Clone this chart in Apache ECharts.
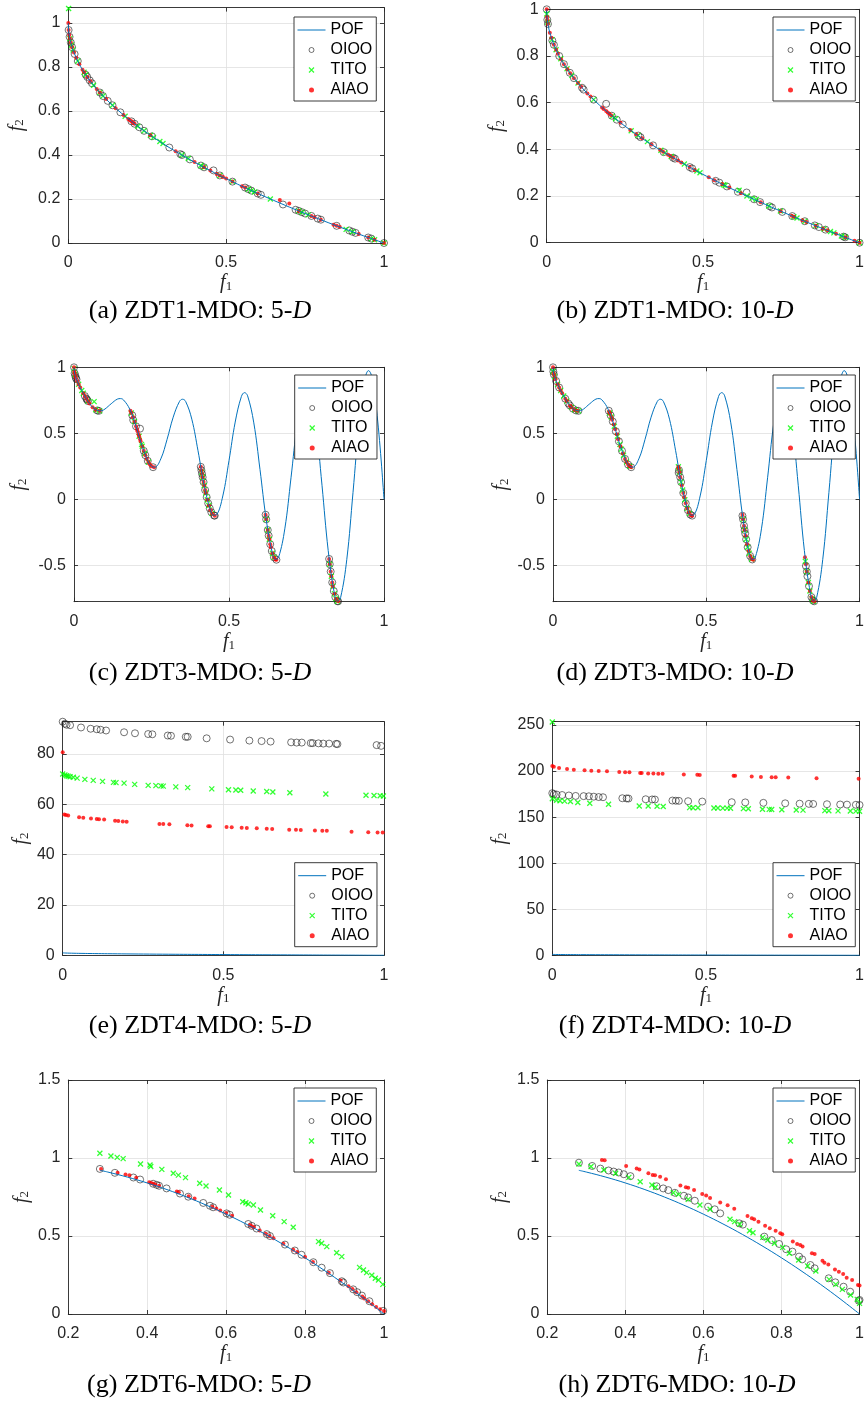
<!DOCTYPE html>
<html>
<head>
<meta charset="utf-8">
<script src="https://cdn.jsdelivr.net/npm/echarts@6.0.0/dist/echarts.min.js"></script>
<style>
html, body { margin: 0; padding: 0; background: #fff; }
#chart { width: 867px; height: 1404px; }
</style>
</head>
<body>
<div id="chart"></div>
<script>
// ---- Pareto fronts ----
var zdt1Pof = [[0,1],[0.001,0.968],[0.003,0.945],[0.006,0.923],[0.01,0.9],[0.02,0.859],[0.035,0.813],[0.05,0.776],[0.07,0.735],[0.1,0.684],[0.14,0.626],[0.2,0.553],[0.27,0.48],[0.35,0.408],[0.45,0.329],[0.55,0.258],[0.65,0.194],[0.75,0.134],[0.85,0.078],[0.95,0.025],[1,0]];
var zdt3Pof = [[0,1],[0.001,0.968],[0.003,0.945],[0.005,0.929],[0.01,0.897],[0.02,0.847],[0.03,0.803],[0.04,0.762],[0.05,0.726],[0.06,0.698],[0.07,0.679],[0.083,0.670],[0.09,0.672],[0.1,0.684],[0.12,0.724],[0.14,0.759],[0.15,0.763],[0.16,0.752],[0.18,0.682],[0.2,0.553],[0.22,0.402],[0.24,0.282],[0.25,0.25],[0.26,0.243],[0.28,0.306],[0.3,0.452],[0.32,0.622],[0.34,0.740],[0.35,0.758],[0.36,0.742],[0.38,0.607],[0.4,0.368],[0.42,0.105],[0.44,-0.082],[0.45,-0.121],[0.46,-0.116],[0.48,0.025],[0.5,0.293],[0.52,0.585],[0.54,0.779],[0.55,0.808],[0.56,0.784],[0.58,0.579],[0.6,0.225],[0.62,-0.152],[0.64,-0.409],[0.65,-0.456],[0.66,-0.44],[0.68,-0.224],[0.7,0.163],[0.72,0.575],[0.74,0.844],[0.75,0.884],[0.76,0.851],[0.78,0.575],[0.8,0.106],[0.82,-0.388],[0.84,-0.715],[0.85,-0.772],[0.86,-0.745],[0.88,-0.455],[0.9,0.051],[0.92,0.582],[0.94,0.925],[0.95,0.975],[0.96,0.933],[0.98,0.586],[1,0]];
var zdt6Pof = [[0.2807,0.9212],[0.3,0.91],[0.35,0.8775],[0.4,0.84],[0.45,0.7975],[0.5,0.75],[0.55,0.6975],[0.6,0.64],[0.65,0.5775],[0.7,0.51],[0.75,0.4375],[0.8,0.36],[0.85,0.2775],[0.9,0.19],[0.95,0.0975],[1,0]];

// ---- (a) ZDT1 5-D ----
var zdt1_5d_oioo = [[0.001,0.968],[0.004,0.937],[0.008,0.911],[0.012,0.89],[0.02,0.859],[0.03,0.827],[0.055,0.765],[0.06,0.755],[0.068,0.739],[0.075,0.726],[0.1,0.684],[0.11,0.668],[0.125,0.646],[0.14,0.626],[0.165,0.594],[0.2,0.553],[0.21,0.542],[0.225,0.526],[0.24,0.51],[0.265,0.485],[0.32,0.434],[0.355,0.404],[0.36,0.4],[0.385,0.38],[0.42,0.352],[0.43,0.344],[0.46,0.33],[0.48,0.307],[0.52,0.279],[0.56,0.252],[0.57,0.245],[0.58,0.238],[0.6,0.225],[0.61,0.219],[0.68,0.175],[0.72,0.151],[0.73,0.146],[0.74,0.14],[0.75,0.134],[0.77,0.123],[0.79,0.111],[0.8,0.106],[0.85,0.078],[0.89,0.057],[0.9,0.051],[0.91,0.046],[0.95,0.025],[0.96,0.02],[1,0]];
var zdt1_5d_tito = [[0.001,1.066],[0.005,0.929],[0.01,0.9],[0.015,0.878],[0.03,0.827],[0.05,0.776],[0.055,0.765],[0.08,0.717],[0.1,0.684],[0.11,0.668],[0.14,0.626],[0.18,0.576],[0.22,0.531],[0.24,0.51],[0.26,0.49],[0.27,0.48],[0.29,0.461],[0.3,0.452],[0.36,0.4],[0.38,0.384],[0.42,0.352],[0.43,0.344],[0.48,0.307],[0.52,0.279],[0.57,0.245],[0.58,0.238],[0.59,0.232],[0.64,0.2],[0.73,0.146],[0.74,0.14],[0.76,0.128],[0.88,0.062],[0.9,0.051],[0.96,0.02],[0.97,0.015],[1,0]];
var zdt1_5d_aiao = [[0,1],[0.001,0.968],[0.003,0.945],[0.005,0.929],[0.008,0.911],[0.012,0.89],[0.018,0.866],[0.025,0.842],[0.035,0.813],[0.045,0.788],[0.05,0.776],[0.06,0.755],[0.07,0.735],[0.09,0.7],[0.1,0.684],[0.12,0.654],[0.15,0.613],[0.175,0.582],[0.19,0.564],[0.195,0.558],[0.2,0.553],[0.205,0.547],[0.21,0.542],[0.26,0.49],[0.34,0.417],[0.4,0.368],[0.43,0.344],[0.45,0.329],[0.47,0.314],[0.48,0.307],[0.49,0.3],[0.5,0.293],[0.52,0.279],[0.55,0.258],[0.56,0.252],[0.6,0.225],[0.67,0.195],[0.7,0.18],[0.73,0.146],[0.77,0.123],[0.78,0.117],[0.8,0.106],[0.84,0.083],[0.85,0.078],[0.86,0.073],[0.92,0.041],[0.95,0.025],[0.97,0.015],[1,0]];

// ---- (b) ZDT1 10-D ----
var zdt1_10d_oioo = [[0,1],[0.002,0.955],[0.004,0.937],[0.018,0.866],[0.023,0.848],[0.04,0.8],[0.055,0.765],[0.074,0.728],[0.087,0.705],[0.113,0.664],[0.118,0.656],[0.15,0.613],[0.19,0.595],[0.208,0.544],[0.224,0.527],[0.243,0.507],[0.293,0.459],[0.3,0.452],[0.34,0.417],[0.374,0.388],[0.404,0.364],[0.41,0.36],[0.457,0.324],[0.465,0.318],[0.54,0.265],[0.552,0.257],[0.576,0.241],[0.611,0.218],[0.639,0.215],[0.663,0.186],[0.682,0.174],[0.713,0.156],[0.72,0.151],[0.753,0.132],[0.785,0.114],[0.825,0.092],[0.857,0.074],[0.87,0.067],[0.891,0.056],[0.949,0.026],[0.954,0.023],[1,0]];
var zdt1_10d_tito = [[0,0.98],[0.003,0.945],[0.017,0.87],[0.03,0.827],[0.045,0.788],[0.065,0.745],[0.08,0.717],[0.1,0.684],[0.15,0.613],[0.21,0.542],[0.22,0.531],[0.27,0.48],[0.292,0.46],[0.322,0.433],[0.365,0.396],[0.378,0.385],[0.398,0.369],[0.44,0.337],[0.48,0.307],[0.49,0.3],[0.565,0.248],[0.57,0.245],[0.615,0.225],[0.64,0.2],[0.656,0.19],[0.67,0.185],[0.71,0.157],[0.747,0.136],[0.79,0.111],[0.8,0.106],[0.825,0.092],[0.86,0.073],[0.886,0.059],[0.907,0.048],[0.918,0.042],[0.942,0.029],[0.955,0.023],[1,0]];
var zdt1_10d_aiao = [[0,1],[0.001,0.968],[0.002,0.955],[0.004,0.937],[0.01,0.9],[0.015,0.878],[0.023,0.848],[0.03,0.827],[0.036,0.81],[0.046,0.786],[0.055,0.765],[0.066,0.743],[0.075,0.726],[0.087,0.705],[0.1,0.684],[0.11,0.668],[0.13,0.639],[0.14,0.626],[0.177,0.579],[0.182,0.573],[0.19,0.564],[0.195,0.558],[0.2,0.553],[0.206,0.546],[0.236,0.514],[0.267,0.483],[0.286,0.465],[0.305,0.448],[0.335,0.421],[0.362,0.398],[0.372,0.39],[0.388,0.377],[0.395,0.372],[0.405,0.364],[0.42,0.352],[0.43,0.344],[0.457,0.324],[0.473,0.312],[0.518,0.28],[0.536,0.268],[0.561,0.251],[0.584,0.236],[0.621,0.212],[0.684,0.173],[0.748,0.135],[0.783,0.115],[0.79,0.111],[0.817,0.096],[0.83,0.089],[0.86,0.073],[0.883,0.06],[0.897,0.053],[0.925,0.038],[0.955,0.023],[0.984,0.008],[1,0]];

// ---- (c) ZDT3 5-D ----
var zdt3_5d_oioo = [[0,1],[0.002,0.955],[0.004,0.936],[0.006,0.921],[0.008,0.909],[0.035,0.782],[0.04,0.762],[0.042,0.755],[0.045,0.744],[0.075,0.673],[0.08,0.670],[0.188,0.636],[0.191,0.6],[0.2,0.553],[0.213,0.535],[0.225,0.367],[0.23,0.334],[0.238,0.291],[0.255,0.243],[0.409,0.246],[0.411,0.22],[0.413,0.193],[0.415,0.167],[0.418,0.13],[0.423,0.07],[0.428,0.016],[0.433,-0.031],[0.438,-0.069],[0.443,-0.098],[0.452,-0.123],[0.454,-0.124],[0.618,-0.117],[0.62,-0.152],[0.625,-0.233],[0.628,-0.276],[0.633,-0.34],[0.638,-0.392],[0.645,-0.44],[0.653,-0.458],[0.823,-0.452],[0.825,-0.492],[0.828,-0.548],[0.833,-0.63],[0.838,-0.695],[0.843,-0.741],[0.85,-0.772],[0.852,-0.773]];
var zdt3_5d_tito = [[0,0.99],[0.003,0.945],[0.015,0.871],[0.025,0.824],[0.03,0.803],[0.045,0.744],[0.065,0.74],[0.07,0.679],[0.083,0.67],[0.185,0.654],[0.195,0.589],[0.21,0.477],[0.218,0.416],[0.22,0.402],[0.228,0.347],[0.24,0.282],[0.412,0.206],[0.415,0.167],[0.42,0.105],[0.425,0.048],[0.43,-0.004],[0.435,-0.047],[0.445,-0.107],[0.62,-0.152],[0.625,-0.233],[0.63,-0.303],[0.64,-0.409],[0.645,-0.44],[0.825,-0.492],[0.83,-0.583],[0.835,-0.658],[0.84,-0.715],[0.845,-0.754],[0.85,-0.772]];
var zdt3_5d_aiao = [[0,1],[0.001,0.968],[0.002,0.955],[0.004,0.936],[0.006,0.921],[0.01,0.897],[0.015,0.871],[0.02,0.847],[0.03,0.803],[0.035,0.782],[0.04,0.762],[0.045,0.744],[0.05,0.726],[0.06,0.698],[0.07,0.679],[0.083,0.67],[0.182,0.671],[0.185,0.654],[0.19,0.623],[0.195,0.589],[0.2,0.553],[0.203,0.53],[0.205,0.515],[0.208,0.492],[0.21,0.477],[0.213,0.454],[0.215,0.439],[0.22,0.402],[0.225,0.367],[0.23,0.334],[0.235,0.306],[0.24,0.282],[0.245,0.263],[0.25,0.25],[0.258,0.242],[0.409,0.246],[0.411,0.22],[0.413,0.193],[0.415,0.167],[0.418,0.13],[0.42,0.105],[0.423,0.07],[0.425,0.048],[0.43,-0.004],[0.435,-0.047],[0.44,-0.082],[0.445,-0.107],[0.454,-0.124],[0.618,-0.117],[0.62,-0.152],[0.625,-0.233],[0.628,-0.276],[0.63,-0.303],[0.633,-0.34],[0.635,-0.363],[0.64,-0.409],[0.645,-0.44],[0.65,-0.456],[0.653,-0.458],[0.823,-0.452],[0.825,-0.492],[0.828,-0.548],[0.83,-0.583],[0.833,-0.63],[0.835,-0.658],[0.84,-0.715],[0.845,-0.754],[0.852,-0.773]];

// ---- (d) ZDT3 10-D ----
var zdt3_10d_oioo = [[0,1],[0.001,0.968],[0.003,0.945],[0.01,0.897],[0.02,0.847],[0.04,0.762],[0.05,0.726],[0.055,0.711],[0.065,0.687],[0.075,0.673],[0.083,0.67],[0.182,0.671],[0.188,0.636],[0.195,0.589],[0.205,0.515],[0.215,0.439],[0.225,0.367],[0.235,0.306],[0.245,0.263],[0.255,0.243],[0.41,0.2],[0.411,0.22],[0.415,0.167],[0.418,0.13],[0.425,0.048],[0.433,-0.031],[0.44,-0.082],[0.448,-0.116],[0.454,-0.124],[0.618,-0.125],[0.62,-0.152],[0.623,-0.2],[0.625,-0.233],[0.627,-0.26],[0.63,-0.303],[0.635,-0.363],[0.643,-0.429],[0.65,-0.456],[0.825,-0.505],[0.828,-0.548],[0.83,-0.583],[0.835,-0.658],[0.843,-0.741],[0.848,-0.767],[0.852,-0.773]];
var zdt3_10d_tito = [[0,0.97],[0.005,0.929],[0.015,0.871],[0.025,0.824],[0.035,0.782],[0.045,0.744],[0.06,0.698],[0.07,0.679],[0.083,0.67],[0.185,0.654],[0.19,0.623],[0.2,0.553],[0.21,0.477],[0.218,0.416],[0.223,0.38],[0.23,0.334],[0.24,0.282],[0.25,0.25],[0.409,0.246],[0.412,0.206],[0.418,0.13],[0.423,0.07],[0.43,-0.004],[0.438,-0.069],[0.445,-0.107],[0.62,-0.152],[0.625,-0.233],[0.63,-0.303],[0.635,-0.363],[0.64,-0.409],[0.648,-0.452],[0.823,-0.47],[0.828,-0.548],[0.833,-0.63],[0.838,-0.695],[0.845,-0.754],[0.85,-0.772]];
var zdt3_10d_aiao = [[0,1],[0.002,0.955],[0.004,0.936],[0.008,0.909],[0.015,0.871],[0.02,0.847],[0.025,0.824],[0.03,0.803],[0.04,0.762],[0.045,0.744],[0.055,0.711],[0.06,0.698],[0.07,0.679],[0.08,0.67],[0.183,0.665],[0.186,0.648],[0.19,0.623],[0.193,0.602],[0.198,0.567],[0.203,0.53],[0.208,0.492],[0.213,0.454],[0.22,0.402],[0.228,0.347],[0.235,0.306],[0.24,0.282],[0.245,0.263],[0.25,0.25],[0.255,0.243],[0.409,0.246],[0.41,0.233],[0.412,0.206],[0.415,0.167],[0.42,0.105],[0.425,0.048],[0.428,0.016],[0.433,-0.031],[0.438,-0.069],[0.443,-0.098],[0.45,-0.121],[0.454,-0.124],[0.618,-0.117],[0.62,-0.152],[0.623,-0.2],[0.625,-0.233],[0.628,-0.276],[0.633,-0.34],[0.638,-0.392],[0.643,-0.429],[0.648,-0.452],[0.653,-0.458],[0.822,-0.44],[0.825,-0.492],[0.828,-0.548],[0.833,-0.63],[0.838,-0.695],[0.843,-0.741],[0.848,-0.767],[0.852,-0.773]];

// ---- (e) ZDT4 5-D ----
var zdt4_5d_oioo = [[0,92.8],[0.007,92.0],[0.012,91.6],[0.023,91.4],[0.057,90.5],[0.087,90.0],[0.106,89.8],[0.118,89.6],[0.135,89.3],[0.191,88.6],[0.225,88.2],[0.266,87.9],[0.279,87.8],[0.327,87.3],[0.337,87.2],[0.383,86.8],[0.389,86.8],[0.448,86.2],[0.521,85.7],[0.581,85.3],[0.619,85.1],[0.647,84.9],[0.711,84.6],[0.728,84.5],[0.744,84.5],[0.772,84.3],[0.778,84.3],[0.796,84.2],[0.811,84.1],[0.829,84.1],[0.851,84.0],[0.855,83.9],[0.977,83.5],[0.991,83.2]];
var zdt4_5d_tito = [[0,72.0],[0.007,71.6],[0.012,71.3],[0.017,71.1],[0.023,70.9],[0.033,70.7],[0.045,70.4],[0.069,69.9],[0.095,69.5],[0.124,69.1],[0.158,68.7],[0.166,68.6],[0.191,68.4],[0.224,67.9],[0.266,67.5],[0.29,67.4],[0.306,67.3],[0.313,67.2],[0.352,66.9],[0.389,66.6],[0.464,66.1],[0.516,65.8],[0.539,65.7],[0.554,65.6],[0.593,65.3],[0.635,65.1],[0.654,64.9],[0.707,64.6],[0.819,64.1],[0.944,63.6],[0.969,63.5],[0.988,63.4],[0.998,63.3]];
var zdt4_5d_aiao = [[0,80.7],[0.005,55.9],[0.01,55.7],[0.017,55.5],[0.051,54.8],[0.064,54.6],[0.088,54.3],[0.106,54.1],[0.113,54.0],[0.129,53.9],[0.163,53.5],[0.173,53.4],[0.187,53.2],[0.199,53.1],[0.301,52.2],[0.313,52.2],[0.332,52.1],[0.388,51.7],[0.401,51.6],[0.453,51.3],[0.458,51.3],[0.51,51.0],[0.526,50.9],[0.557,50.7],[0.573,50.6],[0.604,50.5],[0.635,50.3],[0.652,50.2],[0.705,49.9],[0.726,49.9],[0.741,49.8],[0.785,49.6],[0.808,49.5],[0.822,49.5],[0.899,49.1],[0.951,48.9],[0.98,48.8],[0.996,48.8]];

// ---- (f) ZDT4 10-D ----
var zdt4_10d_oioo = [[0,176.0],[0.005,175.0],[0.014,174.5],[0.032,174.0],[0.054,173.5],[0.076,173.0],[0.102,172.8],[0.119,172.6],[0.135,172.2],[0.151,171.8],[0.165,171.6],[0.228,170.5],[0.242,170.3],[0.248,170.2],[0.304,169.4],[0.325,169.2],[0.334,169.1],[0.391,168.0],[0.402,167.8],[0.412,167.7],[0.442,167.3],[0.488,166.9],[0.584,166.2],[0.628,166.0],[0.687,165.5],[0.758,165.0],[0.805,164.6],[0.835,164.4],[0.849,164.3],[0.894,164.0],[0.937,163.7],[0.959,163.6],[0.988,163.4],[1,163.2]];
var zdt4_10d_tito = [[0,253.3],[0,169.9],[0.014,168.3],[0.025,167.8],[0.04,167.4],[0.059,167.0],[0.083,165.8],[0.122,165.0],[0.183,163.9],[0.283,162.1],[0.312,162.0],[0.341,161.9],[0.361,161.6],[0.447,160.3],[0.458,160.2],[0.474,160.1],[0.526,159.9],[0.539,159.9],[0.555,159.8],[0.569,159.8],[0.58,159.7],[0.622,159.2],[0.638,159.1],[0.684,158.5],[0.706,158.4],[0.714,158.3],[0.747,158.1],[0.794,157.8],[0.816,157.6],[0.887,157.1],[0.9,157.0],[0.93,156.8],[0.97,156.6],[0.988,156.5],[1,156.4]];
var zdt4_10d_aiao = [[0,205.5],[0.005,204.8],[0.022,203.3],[0.048,202.2],[0.07,201.5],[0.105,200.8],[0.127,200.4],[0.151,200.1],[0.178,199.7],[0.218,199.0],[0.237,198.7],[0.251,198.6],[0.286,197.9],[0.291,197.9],[0.312,197.5],[0.329,197.3],[0.345,197.2],[0.359,197.0],[0.428,196.2],[0.472,195.9],[0.48,195.8],[0.59,194.8],[0.595,194.8],[0.649,194.1],[0.679,193.7],[0.714,193.4],[0.727,193.3],[0.768,193.0],[0.86,192.3],[0.997,191.6]];

// ---- (g) ZDT6 5-D ----
var zdt6_5d_oioo = [[0.28,0.93],[0.318,0.905],[0.365,0.875],[0.382,0.862],[0.415,0.835],[0.424,0.828],[0.43,0.822],[0.449,0.805],[0.483,0.772],[0.504,0.752],[0.542,0.712],[0.559,0.694],[0.567,0.684],[0.601,0.645],[0.609,0.636],[0.656,0.577],[0.665,0.565],[0.677,0.548],[0.703,0.512],[0.711,0.5],[0.749,0.445],[0.774,0.407],[0.791,0.38],[0.821,0.332],[0.842,0.297],[0.863,0.262],[0.893,0.21],[0.897,0.202],[0.922,0.158],[0.932,0.14],[0.944,0.118],[0.963,0.082],[0.998,0.02]];
var zdt6_5d_tito = [[0.28,1.03],[0.308,1.013],[0.324,1.004],[0.339,0.996],[0.383,0.962],[0.407,0.955],[0.409,0.945],[0.437,0.927],[0.466,0.902],[0.479,0.89],[0.497,0.874],[0.533,0.838],[0.549,0.821],[0.583,0.795],[0.606,0.763],[0.642,0.72],[0.65,0.713],[0.656,0.705],[0.669,0.699],[0.687,0.667],[0.718,0.63],[0.747,0.592],[0.77,0.556],[0.834,0.464],[0.842,0.453],[0.855,0.432],[0.88,0.393],[0.893,0.368],[0.938,0.299],[0.948,0.282],[0.956,0.265],[0.969,0.248],[0.978,0.229],[0.986,0.218],[0.997,0.19]];
var zdt6_5d_aiao = [[0.283,0.93],[0.325,0.905],[0.345,0.895],[0.355,0.89],[0.372,0.874],[0.405,0.845],[0.41,0.84],[0.415,0.835],[0.42,0.83],[0.43,0.822],[0.475,0.785],[0.48,0.78],[0.505,0.755],[0.52,0.74],[0.565,0.688],[0.575,0.676],[0.585,0.664],[0.6,0.648],[0.615,0.63],[0.66,0.57],[0.665,0.563],[0.67,0.556],[0.685,0.536],[0.7,0.515],[0.71,0.5],[0.72,0.486],[0.745,0.45],[0.77,0.412],[0.78,0.397],[0.8,0.366],[0.82,0.334],[0.86,0.265],[0.89,0.215],[0.91,0.178],[0.92,0.16],[0.93,0.14],[0.945,0.112],[0.95,0.1],[0.96,0.082],[0.97,0.062],[0.98,0.045],[0.99,0.03],[1,0.02]];

// ---- (h) ZDT6 10-D ----
var zdt6_10d_oioo = [[0.281,0.97],[0.315,0.949],[0.336,0.932],[0.357,0.92],[0.37,0.913],[0.383,0.907],[0.396,0.896],[0.413,0.884],[0.48,0.819],[0.497,0.805],[0.51,0.794],[0.527,0.777],[0.55,0.758],[0.561,0.747],[0.578,0.726],[0.612,0.688],[0.629,0.671],[0.643,0.645],[0.692,0.581],[0.701,0.573],[0.756,0.496],[0.775,0.474],[0.794,0.449],[0.812,0.415],[0.828,0.4],[0.845,0.368],[0.853,0.35],[0.874,0.314],[0.885,0.293],[0.921,0.229],[0.938,0.203],[0.959,0.175],[0.976,0.143],[0.998,0.085],[1,0.09]];
var zdt6_10d_tito = [[0.281,0.962],[0.312,0.945],[0.345,0.923],[0.375,0.902],[0.409,0.876],[0.438,0.848],[0.468,0.827],[0.477,0.812],[0.523,0.777],[0.536,0.767],[0.561,0.735],[0.591,0.699],[0.617,0.671],[0.668,0.607],[0.68,0.592],[0.693,0.575],[0.718,0.534],[0.727,0.521],[0.752,0.491],[0.765,0.474],[0.782,0.453],[0.803,0.427],[0.82,0.389],[0.844,0.346],[0.867,0.308],[0.888,0.276],[0.922,0.222],[0.939,0.19],[0.956,0.158],[0.977,0.122],[0.994,0.094],[1,0.068]];
var zdt6_10d_aiao = [[0.34,0.987],[0.347,0.985],[0.402,0.949],[0.429,0.932],[0.436,0.927],[0.459,0.902],[0.47,0.891],[0.476,0.889],[0.489,0.88],[0.504,0.863],[0.541,0.823],[0.555,0.812],[0.561,0.81],[0.576,0.795],[0.597,0.769],[0.607,0.759],[0.617,0.744],[0.643,0.714],[0.662,0.697],[0.679,0.675],[0.713,0.628],[0.724,0.613],[0.73,0.607],[0.741,0.592],[0.758,0.566],[0.77,0.549],[0.785,0.534],[0.797,0.517],[0.802,0.511],[0.829,0.464],[0.84,0.449],[0.848,0.442],[0.854,0.432],[0.878,0.389],[0.885,0.385],[0.905,0.342],[0.91,0.329],[0.92,0.318],[0.937,0.286],[0.947,0.271],[0.958,0.256],[0.967,0.233],[0.981,0.218],[0.996,0.186],[1,0.182]];

// ---- panel layout ----
var panels = [
  {grid: {left: 68.3, top: 7.6, width: 315.7, height: 235.4}, x: [0, 1, 0.5], y: [0, 1.07, 0.2], yGap: 42, legend: [294, 17], cap: ['(a) ZDT1-MDO: 5-', 200, 311], pof: zdt1Pof, oioo: zdt1_5d_oioo, tito: zdt1_5d_tito, aiao: zdt1_5d_aiao},
  {grid: {left: 546.7, top: 9.3, width: 315, height: 233.4}, x: [0, 1, 0.5], y: [0, 1, 0.2], yGap: 40, legend: [773, 17], cap: ['(b) ZDT1-MDO: 10-', 675, 311], pof: zdt1Pof, oioo: zdt1_10d_oioo, tito: zdt1_10d_tito, aiao: zdt1_10d_aiao},
  {grid: {left: 74, top: 367.3, width: 310, height: 234.4}, x: [0, 1, 0.5], y: [-0.776, 1, 0.5], yGap: 45, legend: [294.7, 375], cap: ['(c) ZDT3-MDO: 5-', 200, 673], pof: zdt3Pof, oioo: zdt3_5d_oioo, tito: zdt3_5d_tito, aiao: zdt3_5d_aiao},
  {grid: {left: 553, top: 367.3, width: 308.7, height: 234.4}, x: [0, 1, 0.5], y: [-0.776, 1, 0.5], yGap: 42, legend: [773, 375], cap: ['(d) ZDT3-MDO: 10-', 675, 673], pof: zdt3Pof, oioo: zdt3_10d_oioo, tito: zdt3_10d_tito, aiao: zdt3_10d_aiao},
  {grid: {left: 62.7, top: 721.7, width: 321.3, height: 233.6}, x: [0, 1, 0.5], y: [0, 92.8, 20], yGap: 32, legend: [294.7, 862.7], cap: ['(e) ZDT4-MDO: 5-', 200, 1026], pof: zdt1Pof, oioo: zdt4_5d_oioo, tito: zdt4_5d_tito, aiao: zdt4_5d_aiao},
  {grid: {left: 552.3, top: 721.7, width: 309.4, height: 233.6}, x: [0, 1, 0.5], y: [0, 253.6, 50], yGap: 43, legend: [773, 862.7], cap: ['(f) ZDT4-MDO: 10-', 675, 1026], pof: zdt1Pof, oioo: zdt4_10d_oioo, tito: zdt4_10d_tito, aiao: zdt4_10d_aiao},
  {grid: {left: 68.3, top: 1080, width: 315.7, height: 234}, x: [0.2, 1, 0.2], y: [0, 1.5, 0.5], yGap: 37, legend: [294, 1088], cap: ['(g) ZDT6-MDO: 5-', 199, 1385], pof: zdt6Pof, oioo: zdt6_5d_oioo, tito: zdt6_5d_tito, aiao: zdt6_5d_aiao},
  {grid: {left: 547.3, top: 1080, width: 314.4, height: 234}, x: [0.2, 1, 0.2], y: [0, 1.5, 0.5], yGap: 38, legend: [773, 1088], cap: ['(h) ZDT6-MDO: 10-', 677, 1385], pof: zdt6Pof, oioo: zdt6_10d_oioo, tito: zdt6_10d_tito, aiao: zdt6_10d_aiao}
];

var axisColor = '#262626';
var nameRich = {
  f: {fontFamily: 'Liberation Serif', fontStyle: 'italic', fontSize: 20, lineHeight: 20, color: axisColor},
  s: {fontFamily: 'Liberation Serif', fontSize: 13, lineHeight: 12, verticalAlign: 'bottom', color: axisColor}
};

function tickFmt(step) {
  return function (v) {
    var k = Math.round(v / step);
    if (Math.abs(v - k * step) > step * 1e-3) return '';
    return String(parseFloat((k * step).toFixed(4)));
  };
}

function makeAxis(dim, gi, r, primary, gap) {
  var ax = {
    type: 'value', gridIndex: gi, min: r[0], max: r[1],
    position: dim === 'x' ? (primary ? 'bottom' : 'top') : (primary ? 'left' : 'right'),
    axisLine: {show: true, onZero: false, lineStyle: {color: axisColor, width: 0.9}},
    axisTick: {show: true, inside: true, length: 4, lineStyle: {color: axisColor, width: 0.9}},
    axisLabel: {show: primary, formatter: tickFmt(r[2]), color: axisColor,
                fontFamily: 'Liberation Sans', fontSize: 16, margin: dim === 'x' ? 12 : 8},
    splitLine: {show: primary, lineStyle: {color: '#dfdfdf', width: 0.8}}
  };
  if (Math.abs(r[0] / r[2] - Math.round(r[0] / r[2])) < 1e-9) {
    ax.interval = r[2];
  } else {
    ax.minInterval = r[2];
    ax.maxInterval = r[2];
    ax.splitNumber = 4;
  }
  if (primary) {
    ax.name = dim === 'x' ? '{f|f}{s|1}' : '{f|f}{s|2}';
    ax.nameLocation = 'middle';
    ax.nameGap = gap;
    ax.nameTextStyle = {rich: nameRich};
  }
  return ax;
}

var grids = [], xAxes = [], yAxes = [], series = [], legends = [], graphics = [];

panels.forEach(function (p, i) {
  grids.push(p.grid);
  xAxes.push(makeAxis('x', i, p.x, true, 30), makeAxis('x', i, p.x, false));
  yAxes.push(makeAxis('y', i, p.y, true, p.yGap), makeAxis('y', i, p.y, false));
  var xi = 2 * i, yi = 2 * i;
  series.push({
    type: 'line', name: 'POF', xAxisIndex: xi, yAxisIndex: yi, data: p.pof,
    symbol: 'none', smooth: 0.4,
    lineStyle: {color: '#0072bd', width: 1}, itemStyle: {color: '#0072bd'}
  });
  series.push({
    type: 'scatter', name: 'OIOO', xAxisIndex: xi, yAxisIndex: yi, data: p.oioo,
    symbol: 'circle', symbolSize: 7,
    itemStyle: {color: 'rgba(0,0,0,0)', borderColor: '#222', borderWidth: 0.8}
  });
  series.push({
    type: 'scatter', name: 'TITO', xAxisIndex: xi, yAxisIndex: yi, data: p.tito,
    symbol: 'path://M0 0L10 10M10 0L0 10', symbolSize: 5, symbolKeepAspect: true,
    itemStyle: {color: '#00ff00', borderColor: '#00ff00', borderWidth: 1.3}
  });
  series.push({
    type: 'scatter', name: 'AIAO', xAxisIndex: xi, yAxisIndex: yi, data: p.aiao,
    symbol: 'circle', symbolSize: 4,
    itemStyle: {color: '#ff0000'}
  });
  legends.push({
    orient: 'vertical', left: p.legend[0], top: p.legend[1], align: 'left',
    itemWidth: 28, itemHeight: 5, itemGap: 0, padding: [3, 4, 1, 3],
    borderColor: axisColor, borderWidth: 0.9, backgroundColor: '#fff',
    selectedMode: false, symbolKeepAspect: true,
    textStyle: {fontFamily: 'Liberation Sans', fontSize: 16, color: '#000', lineHeight: 20},
    data: [
      {name: 'POF', lineStyle: {width: 1}, itemStyle: {opacity: 0}},
      {name: 'OIOO', itemStyle: {borderWidth: 0.8}},
      {name: 'TITO', itemStyle: {borderWidth: 1.2}},
      {name: 'AIAO', itemStyle: {borderWidth: 0}}
    ]
  });
  graphics.push({
    type: 'text', x: p.cap[1], y: p.cap[2],
    style: {
      text: '{n|' + p.cap[0] + '}{i|D}',
      align: 'center', verticalAlign: 'middle',
      rich: {
        n: {fontFamily: 'Liberation Serif', fontSize: 26, fill: '#000'},
        i: {fontFamily: 'Liberation Serif', fontStyle: 'italic', fontSize: 26, fill: '#000'}
      }
    }
  });
});

var chart = echarts.init(document.getElementById('chart'), null, {renderer: 'canvas'});
chart.setOption({
  animation: false,
  backgroundColor: '#fff',
  grid: grids,
  xAxis: xAxes,
  yAxis: yAxes,
  legend: legends,
  series: series,
  graphic: graphics
});
</script>
</body>
</html>
